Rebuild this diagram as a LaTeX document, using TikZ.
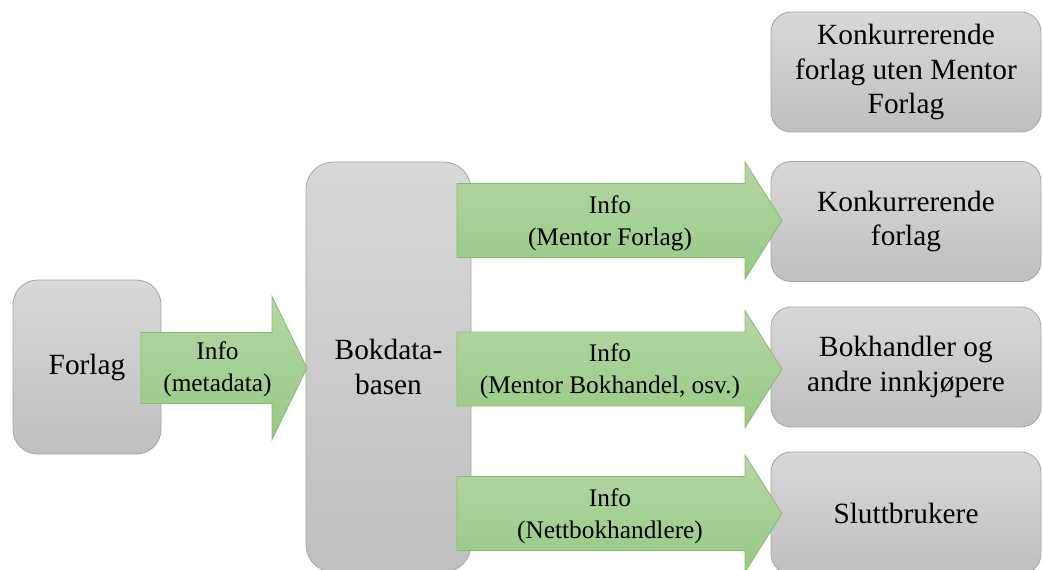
\documentclass[tikz,border=0pt]{standalone}
\usepackage{fontspec}
\setmainfont{Liberation Serif}
\usetikzlibrary{positioning}

\definecolor{boksTopp}{HTML}{D8D8D8}
\definecolor{boksBunn}{HTML}{BFBFBF}
\definecolor{boksKant}{HTML}{A6A6A6}
\definecolor{pilTopp}{HTML}{B4D7A4}
\definecolor{pilBunn}{HTML}{97C985}
\definecolor{pilKant}{HTML}{86BD6C}

\tikzset{
  boks/.style={draw=boksKant, line width=0.6pt, top color=boksTopp, bottom color=boksBunn,
    align=center, inner sep=0pt, font=\fontsize{22}{26}\selectfont},
  hoyreboks/.style={boks, minimum width=202.5pt, minimum height=90pt, rounded corners=15pt},
  pil/.style={draw=pilKant, line width=0.6pt, top color=pilTopp, bottom color=pilBunn, line join=miter},
  piltekst/.style={align=center, inner sep=0pt, font=\fontsize{19}{24}\selectfont}
}

\begin{document}
\begin{tikzpicture}[x=0.75pt, y=-0.75pt]
  \clip (0,0) rectangle (1043,569);

  % boksene
  \node[boks, minimum width=111pt, minimum height=130.5pt, rounded corners=18.5pt]
    (forlag) at (87,367) {Forlag};
  \node[boks, minimum width=123.75pt, minimum height=307.5pt, rounded corners=20.5pt]
    (bokdata) at (388.5,367) {Bokdata-\\basen};
  \node[hoyreboks] (konkuten) at (906,72)    {Konkurrerende\\forlag uten Mentor\\Forlag};
  \node[hoyreboks] (konk)     at (906,221.5) {Konkurrerende\\forlag};
  \node[hoyreboks] (bokhandl) at (906,367)   {Bokhandler og\\andre innkj\o pere};
  \node[hoyreboks, minimum height=91.5pt] (slutt) at (906,513) {Sluttbrukere};

  % pilene
  \path[pil] (141,332.5) -- (272,332.5) -- (272,296.5) -- (307,368)
    -- (272,439.5) -- (272,403.5) -- (141,403.5) -- cycle;
  \node[piltekst] (info-meta) at (217.5,369) {Info\\(metadata)};

  \foreach \y/\navn/\tekst in {220.5/forlag/{(Mentor Forlag)},
      369/bokhandel/{(Mentor Bokhandel, osv.)}, 513.5/nett/{(Nettbokhandlere)}}
  {
    \path[pil] (457,{\y-37}) -- (745,{\y-37}) -- (745,{\y-58.5}) -- (782,\y)
      -- (745,{\y+58.5}) -- (745,{\y+37}) -- (457,{\y+37}) -- cycle;
    \node[piltekst] (info-\navn) at (610,{\y+2.5}) {Info\\\tekst};
  }
\end{tikzpicture}
\end{document}
